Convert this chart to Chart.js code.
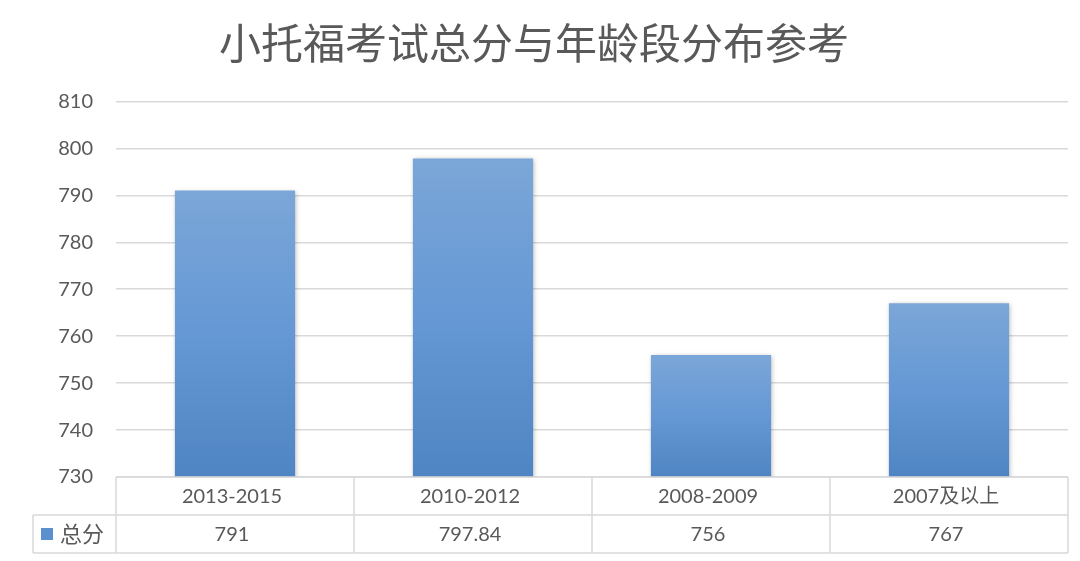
<!DOCTYPE html>
<html>
<head>
<meta charset="utf-8">
<script src="https://cdn.jsdelivr.net/npm/chart.js@4/dist/chart.umd.min.js"></script>
<style>
  html, body { margin: 0; padding: 0; background: #fff; }
  #wrap { width: 1080px; height: 561px; }
</style>
</head>
<body>
<div id="wrap"><canvas id="myChart" width="1080" height="561"></canvas></div>
<script>
var titleText = '小托福考试总分与年龄段分布参考';
var categories = ['2013-2015', '2010-2012', '2008-2009', '2007及以上'];
var seriesName = '总分';
var scores = [791, 797.84, 756, 767];
var valueLabels = ['791', '797.84', '756', '767'];

var gridClr = '#d9d9d9';
var textClr = '#595959';
var fontFam = 'Lato, "Noto Sans CJK SC", sans-serif';

// light at the top of each bar, darker at its base
function barGradient(context){
    var chart = context.chart;
    var ys = chart.scales.y;
    if(!ys || context.raw == undefined) return '#6598d4';
    var yTop = ys.getPixelForValue(context.raw);
    var yBot = ys.getPixelForValue(ys.min);
    if(!isFinite(yTop) || !isFinite(yBot) || yTop == yBot) return '#6598d4';
    var g = chart.ctx.createLinearGradient(0, yTop, 0, yBot);
    g.addColorStop(0, '#7ba6d8');
    g.addColorStop(0.5, '#6598d4');
    g.addColorStop(1, '#4f85c3');
    return g;
}

var barShadow = {
    id: 'barShadow',
    beforeDatasetsDraw: function(chart){
        var ctx = chart.ctx;
        ctx.save();
        ctx.shadowColor = 'rgba(0,0,0,0.3)';
        ctx.shadowBlur = 5;
        ctx.shadowOffsetX = 1;
        ctx.shadowOffsetY = 1;
    },
    afterDatasetsDraw: function(chart){
        chart.ctx.restore();
    }
};

// data table under the plot, cells follow the x scale
var dataTable = {
    id: 'dataTable',
    afterDraw: function(chart){
        var ctx = chart.ctx;
        var xs = chart.scales.x;
        var area = chart.chartArea;
        var rowH = 38;
        var top = area.bottom, mid = top + rowH, bot = mid + rowH;
        var half = (xs.getPixelForTick(1) - xs.getPixelForTick(0)) / 2;
        var legLeft = 33;
        ctx.save();
        ctx.strokeStyle = gridClr;
        ctx.lineWidth = 1.5;
        ctx.beginPath();
        ctx.moveTo(area.left, top); ctx.lineTo(area.right, top);
        ctx.moveTo(legLeft, mid); ctx.lineTo(area.right, mid);
        ctx.moveTo(legLeft, bot); ctx.lineTo(area.right, bot);
        ctx.moveTo(legLeft, mid); ctx.lineTo(legLeft, bot);
        for(var i = 0; i < categories.length; i++){
            var x0 = xs.getPixelForTick(i) - half;
            ctx.moveTo(x0, top); ctx.lineTo(x0, bot);
        }
        ctx.moveTo(area.right, top); ctx.lineTo(area.right, bot);
        ctx.stroke();

        ctx.fillStyle = textClr;
        ctx.font = '20px ' + fontFam;
        ctx.textAlign = 'center';
        ctx.textBaseline = 'middle';
        for(var i = 0; i < categories.length; i++){
            var cx = xs.getPixelForTick(i) - 3;
            ctx.fillText(categories[i], cx, top + rowH / 2 + 1);
            ctx.fillText(valueLabels[i], cx, mid + rowH / 2 + 1);
        }
        // legend key
        ctx.fillStyle = '#5b8fcd';
        ctx.fillRect(41, mid + 13, 12, 12);
        ctx.fillStyle = textClr;
        ctx.textAlign = 'left';
        ctx.font = '22px ' + fontFam;
        ctx.fillText(seriesName, 60, mid + rowH / 2 + 1);
        ctx.restore();
    }
};

var ctx = document.getElementById('myChart').getContext('2d');
var myChart = new Chart(ctx, {
    type: 'bar',
    data: {
        labels: categories,
        datasets: [{
            label: seriesName,
            data: scores,
            backgroundColor: barGradient,
            borderWidth: 0,
            barPercentage: 1,
            categoryPercentage: 0.505
        }]
    },
    options: {
        responsive: false,
        animation: false,
        layout: { padding: { left: 0, right: 12, bottom: 84, top: 0 } },
        plugins: {
            legend: { display: false },
            tooltip: { enabled: false },
            title: {
                display: true,
                text: titleText,
                color: textClr,
                font: { size: 42, family: fontFam, weight: 'normal' },
                padding: { top: 20, bottom: 31 }
            }
        },
        scales: {
            x: { display: false },
            y: {
                min: 730,
                max: 810,
                ticks: {
                    stepSize: 10,
                    color: textClr,
                    padding: 23,
                    font: { size: 20, family: fontFam }
                },
                grid: { color: gridClr, lineWidth: 1.5, drawTicks: false },
                border: { display: false },
                afterFit: function(scale){ scale.width = 116; }
            }
        }
    },
    plugins: [barShadow, dataTable]
});
</script>
</body>
</html>
